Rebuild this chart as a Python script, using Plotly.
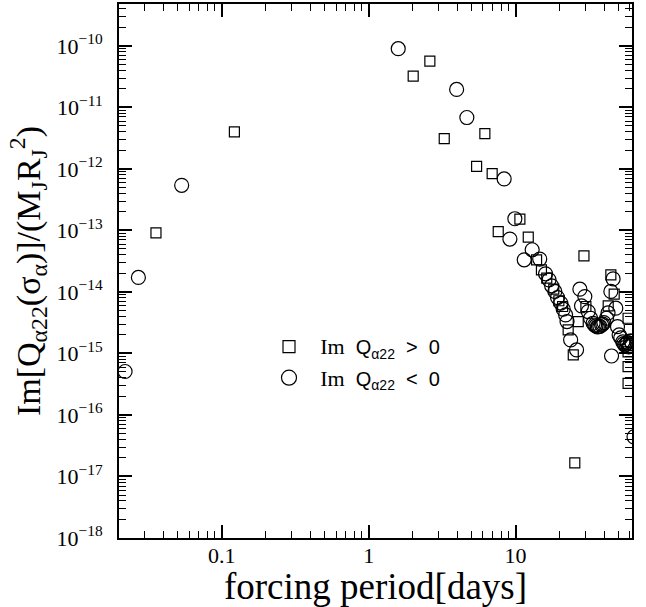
import numpy as np
import plotly.graph_objects as go

# Im Q_a22 > 0 (squares)
period_pos = [0.122, 0.0357, 2.61, 2.01, 3.27, 6.18, 5.43, 6.93, 10.7, 7.62, 12.2, 13.9,
              15.0, 16.3, 18.2, 19.7, 20.9, 22.8, 26.7, 24.7, 29.2, 30.1, 42.7, 44.5,
              46.9, 58.3, 58.3, 58.3, 25.3, 58.3]
imq_pos = [4.0e-12, 9.1e-14, 5.65e-11, 3.22e-11, 3.11e-12, 3.76e-12, 1.10e-12, 8.4e-13,
           1.53e-13, 9.6e-14, 7.8e-14, 3.33e-14, 2.29e-14, 1.68e-14, 1.11e-14, 7.2e-15,
           5.8e-15, 2.41e-15, 3.3e-15, 9.5e-16, 3.87e-14, 5.8e-15, 5.94e-15, 1.9e-14,
           9.2e-15, 3.74e-15, 6.1e-16, 3.27e-16, 1.67e-17, 1.06e-15]

# Im Q_a22 < 0 (circles, absolute value)
period_neg = [0.0220, 0.0271, 0.0534, 1.59, 3.97, 4.66, 8.36, 9.89, 9.15, 12.97, 11.45,
              14.6, 16.0, 16.9, 17.6, 18.5, 19.3, 20.3, 21.1, 21.9, 22.4, 23.7, 26.0,
              27.4, 29.6, 28.1, 31.2, 32.4, 33.7, 35.2, 36.7, 38.5, 39.9, 41.6, 42.6,
              44.5, 46.1, 48.1, 49.4, 50.7, 52.0, 53.7, 55.4, 57.2, 59.0, 60.8, 45.0,
              64.0, 34.5, 36.0, 37.5, 39.2, 54.5, 56.3, 58.0, 60.0, 62.0]
imq_neg = [5.09e-16, 1.72e-14, 5.41e-13, 9.0e-11, 1.96e-11, 6.85e-12, 6.87e-13, 1.55e-13,
           7.24e-14, 4.85e-14, 3.33e-14, 3.42e-14, 1.97e-14, 1.57e-14, 1.26e-14, 1.02e-14,
           8.1e-15, 6.6e-15, 5.25e-15, 4.24e-15, 3.3e-15, 1.66e-15, 1.14e-15, 1.11e-14,
           8.4e-15, 5.94e-15, 4.8e-15, 3.74e-15, 3.1e-15, 2.8e-15, 2.73e-15, 2.91e-15,
           3.18e-15, 3.74e-15, 4.57e-15, 1.02e-14, 1.63e-14, 5.45e-15, 2.73e-15, 2.0e-15,
           1.79e-15, 1.54e-15, 1.37e-15, 1.48e-15, 1.28e-15, 1.6e-15, 9.1e-16, 4.4e-17,
           2.9e-15, 2.7e-15, 2.75e-15, 3.0e-15, 1.45e-15, 1.42e-15, 1.5e-15, 1.35e-15, 1.45e-15]

x_range = [0.02, 62.0]
y_range = [1e-18, 4.8e-10]

x_tickvals = [0.1, 1, 10]
x_ticktext = ["0.1", "1", "10"]
y_exponents = [-18, -17, -16, -15, -14, -13, -12, -11, -10]

SERIF = "Liberation Serif"
SANS = "Liberation Sans"


def minor_vals(lo, hi):
    vals = []
    for d in range(int(np.floor(np.log10(lo))), int(np.ceil(np.log10(hi))) + 1):
        for k in range(2, 10):
            v = k * 10.0 ** d
            if lo < v < hi:
                vals.append(v)
    return vals


fig = go.Figure()
fig.add_trace(go.Scatter(x=period_pos, y=imq_pos, mode="markers", showlegend=False,
                         marker=dict(symbol="square-open", size=10, color="black",
                                     line=dict(width=1.2))))
fig.add_trace(go.Scatter(x=period_neg, y=imq_neg, mode="markers", showlegend=False,
                         marker=dict(symbol="circle-open", size=14, color="black",
                                     line=dict(width=1.2))))

lbl_pos = ('\u00a0\u00a0<span style="font-family:Liberation Serif;font-size:22px">Im</span>'
           '\u00a0\u00a0Q<sub>α22</sub>\u00a0\u00a0&gt;\u00a0\u00a00')
lbl_neg = ('\u00a0\u00a0<span style="font-family:Liberation Serif;font-size:22px">Im</span>'
           '\u00a0\u00a0Q<sub>α22</sub>\u00a0\u00a0&lt;\u00a0\u00a00')
fig.add_trace(go.Scatter(x=[None], y=[None], mode="markers", name=lbl_pos, legend="legend",
                         marker=dict(symbol="square-open", size=12, color="black",
                                     line=dict(width=1.2))))
fig.add_trace(go.Scatter(x=[None], y=[None], mode="markers", name=lbl_neg, legend="legend2",
                         marker=dict(symbol="circle-open", size=15, color="black",
                                     line=dict(width=1.2))))

axis_common = dict(type="log", showline=True, linewidth=2, linecolor="black", mirror="allticks",
                   ticks="inside", ticklen=13, tickwidth=1.5, tickcolor="black",
                   showgrid=False, zeroline=False, automargin=False, tickmode="array",
                   tickfont=dict(family=SERIF, size=22, color="black"))

fig.update_xaxes(**axis_common,
                 range=[np.log10(x_range[0]), np.log10(x_range[1])],
                 tickvals=x_tickvals, ticktext=x_ticktext,
                 minor=dict(ticks="inside", ticklen=7, tickwidth=1.2, tickcolor="black",
                            tickmode="array", tickvals=minor_vals(*x_range), showgrid=False),
                 ticklabelstandoff=-3,
                 title=dict(text="forcing period[days]", standoff=5,
                            font=dict(family=SERIF, size=37, color="black")))
fig.update_yaxes(**axis_common,
                 range=[np.log10(y_range[0]), np.log10(y_range[1])],
                 tickvals=[10.0 ** e for e in y_exponents],
                 ticktext=["10<sup>\u2212%d</sup>" % (-e) for e in y_exponents],
                 minor=dict(ticks="inside", ticklen=7, tickwidth=1.2, tickcolor="black",
                            tickmode="array", tickvals=minor_vals(*y_range), showgrid=False),
                 ticklabelstandoff=10,
                 title=dict(text="Im[Q<sub>α22</sub>(σ<sub>α</sub>)]/(M<sub>J</sub>R<sub>J</sub><sup>2</sup>)",
                            standoff=6, font=dict(family=SERIF, size=34, color="black")))

leg_common = dict(bgcolor="rgba(0,0,0,0)", borderwidth=0, xanchor="left", yanchor="middle",
                  font=dict(family=SANS, size=20, color="black"), itemsizing="trace")
fig.update_layout(
    width=646, height=607,
    margin=dict(l=119, r=14, t=4, b=69),
    paper_bgcolor="white", plot_bgcolor="white",
    legend=dict(**leg_common, x=(269 - 119) / 513, y=(538 - 347) / 533),
    legend2=dict(**leg_common, x=(269 - 119) / 513, y=(538 - 378) / 533),
)

fig.write_html("out.html")
